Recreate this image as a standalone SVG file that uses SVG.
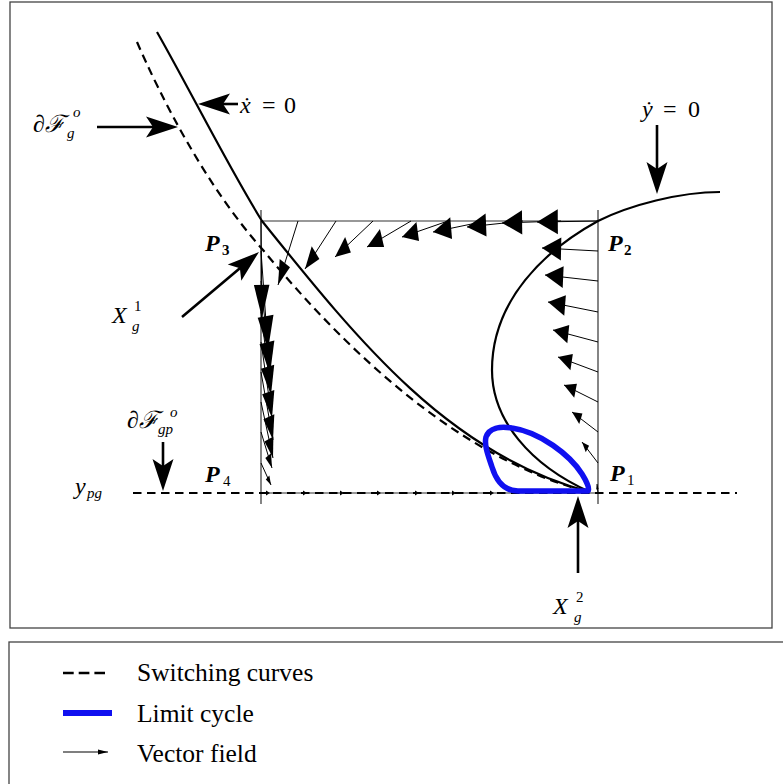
<svg xmlns="http://www.w3.org/2000/svg" xmlns:xlink="http://www.w3.org/1999/xlink" width="783" height="784" viewBox="0 0 783 784">
<defs>
<style>
.m{font-family:"Liberation Serif","DejaVu Serif",serif;font-style:italic;font-size:24px;fill:#000}
.r{font-family:"Liberation Serif","DejaVu Serif",serif;font-style:normal;font-size:24px;fill:#000}
.lg{font-size:25.5px}
.s{font-size:15px}
.b{font-weight:bold}
.frame{fill:none;stroke:#444;stroke-width:1.3}
.curve{fill:none;stroke:#000;stroke-width:2.2}
.dash{fill:none;stroke:#000;stroke-width:2.2;stroke-dasharray:8.5 5.5}
.rl{fill:none;stroke:#333;stroke-width:1.2}
.q{fill:none;stroke:#000;stroke-width:1}
.big{fill:none;stroke:#000;stroke-width:2.6;marker-end:url(#stealth)}
.lc{fill:none;stroke:#1010f0;stroke-width:5.5;stroke-linejoin:round}
</style>
<marker id="stealth" markerUnits="userSpaceOnUse" viewBox="-34 -12 36 24" refX="-20" refY="0" markerWidth="36" markerHeight="24" orient="auto">
<path d="M0,0 L-32,-10.5 L-25,0 L-32,10.5 Z" fill="#000"/>
</marker>
<marker id="small" markerUnits="userSpaceOnUse" viewBox="-11 -4 12 8" refX="0" refY="0" markerWidth="12" markerHeight="8" orient="auto">
<path d="M0,0 L-10,-2.5 L-10,2.5 Z" fill="#000"/>
</marker>
<path id="qh" d="M0,0 L-1,-0.375 L-1,0.375 Z" fill="#000"/>
</defs>

<rect id="frame" class="frame" x="10" y="2" width="762" height="626"/>

<g id="rectangle">
<line class="rl" x1="261" y1="221" x2="598" y2="221"/>
<line class="rl" x1="261" y1="210" x2="261" y2="504"/>
<line class="rl" x1="598" y1="210" x2="598" y2="504"/>
<line class="rl" x1="261" y1="493" x2="598" y2="493"/>
</g>

<g id="vector-field">
<line class="q" x1="598" y1="221" x2="537" y2="222"/>
<line class="q" x1="561" y1="221" x2="502" y2="223"/>
<line class="q" x1="523" y1="221" x2="467" y2="227"/>
<line class="q" x1="486" y1="221" x2="433" y2="232"/>
<line class="q" x1="448" y1="221" x2="402" y2="237"/>
<line class="q" x1="411" y1="221" x2="367" y2="247"/>
<line class="q" x1="373" y1="221" x2="335" y2="257"/>
<line class="q" x1="336" y1="221" x2="305" y2="269"/>
<line class="q" x1="298" y1="221" x2="278" y2="285"/>
<use xlink:href="#qh" transform="translate(537,222) scale(1,1.6) rotate(179.4) scale(20.8)"/>
<use xlink:href="#qh" transform="translate(502,223) scale(1,1.6) rotate(178.8) scale(20.1)"/>
<use xlink:href="#qh" transform="translate(467,227) scale(1,1.6) rotate(176.2) scale(19.1)"/>
<use xlink:href="#qh" transform="translate(433,232) scale(1,1.6) rotate(172.6) scale(18.3)"/>
<use xlink:href="#qh" transform="translate(402,237) scale(1,1.6) rotate(167.7) scale(16.1)"/>
<use xlink:href="#qh" transform="translate(367,247) scale(1,1.6) rotate(159.7) scale(16)"/>
<use xlink:href="#qh" transform="translate(335,257) scale(1,1.6) rotate(149.4) scale(15.1)"/>
<use xlink:href="#qh" transform="translate(305,269) scale(1,1.6) rotate(135.9) scale(14.7)"/>
<use xlink:href="#qh" transform="translate(278,285) scale(1,1.6) rotate(116.6) scale(15.3)"/>
<line class="q" x1="598" y1="251" x2="542" y2="248"/>
<line class="q" x1="598" y1="281" x2="545" y2="275"/>
<line class="q" x1="598" y1="312" x2="548" y2="302"/>
<line class="q" x1="598" y1="342" x2="553" y2="330"/>
<line class="q" x1="598" y1="372" x2="558" y2="357"/>
<line class="q" x1="598" y1="402" x2="564" y2="385"/>
<line class="q" x1="598" y1="432" x2="572" y2="412"/>
<line class="q" x1="598" y1="463" x2="582" y2="442"/>
<line class="q" x1="598" y1="493" x2="597" y2="484"/>
<use xlink:href="#qh" transform="translate(542,248) scale(1,1.6) rotate(181.9) scale(19.1)"/>
<use xlink:href="#qh" transform="translate(545,275) scale(1,1.6) rotate(184) scale(18.2)"/>
<use xlink:href="#qh" transform="translate(548,302) scale(1,1.6) rotate(187.1) scale(17.2)"/>
<use xlink:href="#qh" transform="translate(553,330) scale(1,1.6) rotate(189.5) scale(15.5)"/>
<use xlink:href="#qh" transform="translate(558,357) scale(1,1.6) rotate(193.2) scale(14)"/>
<use xlink:href="#qh" transform="translate(564,385) scale(1,1.6) rotate(197.3) scale(12.1)"/>
<use xlink:href="#qh" transform="translate(572,412) scale(1,1.6) rotate(205.7) scale(9.8)"/>
<use xlink:href="#qh" transform="translate(582,442) scale(1,1.6) rotate(219.3) scale(7)"/>
<use xlink:href="#qh" transform="translate(597,484) scale(1,1.6) rotate(264) scale(3.3)"/>
<line class="q" x1="261" y1="221" x2="262" y2="318"/>
<line class="q" x1="261" y1="251" x2="268" y2="350"/>
<line class="q" x1="261" y1="281" x2="270" y2="374"/>
<line class="q" x1="261" y1="312" x2="271" y2="395"/>
<line class="q" x1="261" y1="342" x2="272" y2="418"/>
<line class="q" x1="261" y1="372" x2="273" y2="440"/>
<line class="q" x1="261" y1="402" x2="273" y2="458"/>
<line class="q" x1="261" y1="432" x2="272" y2="468"/>
<line class="q" x1="261" y1="463" x2="271" y2="485"/>
<use xlink:href="#qh" transform="translate(262,318) scale(1,1.6) rotate(89.1) scale(20.7)"/>
<use xlink:href="#qh" transform="translate(268,350) scale(1,1.6) rotate(83.5) scale(21.2)"/>
<use xlink:href="#qh" transform="translate(270,374) scale(1,1.6) rotate(81.2) scale(20)"/>
<use xlink:href="#qh" transform="translate(271,395) scale(1,1.6) rotate(79.1) scale(18)"/>
<use xlink:href="#qh" transform="translate(272,418) scale(1,1.6) rotate(77) scale(16.6)"/>
<use xlink:href="#qh" transform="translate(273,440) scale(1,1.6) rotate(74.2) scale(15.1)"/>
<use xlink:href="#qh" transform="translate(273,458) scale(1,1.6) rotate(71.1) scale(12.6)"/>
<use xlink:href="#qh" transform="translate(272,468) scale(1,1.6) rotate(63.9) scale(8.6)"/>
<use xlink:href="#qh" transform="translate(271,485) scale(1,1.6) rotate(54) scale(5.8)"/>
<use xlink:href="#qh" transform="translate(270,493) scale(1,1.6) rotate(0) scale(4)"/>
<use xlink:href="#qh" transform="translate(307,493) scale(1,1.6) rotate(0) scale(4)"/>
<use xlink:href="#qh" transform="translate(344,493) scale(1,1.6) rotate(0) scale(4)"/>
<use xlink:href="#qh" transform="translate(381,493) scale(1,1.6) rotate(0) scale(4)"/>
<use xlink:href="#qh" transform="translate(419,493) scale(1,1.6) rotate(0) scale(4)"/>
<use xlink:href="#qh" transform="translate(456,493) scale(1,1.6) rotate(0) scale(4)"/>
<use xlink:href="#qh" transform="translate(494,493) scale(1,1.6) rotate(0) scale(4)"/>
</g>

<g id="curves">
<line class="dash" x1="133" y1="493" x2="737" y2="493"/>
<path class="curve" d="M157,32 C190,90 230,170 262,221 C360,343 450,455 590,492"/>
<path class="dash" d="M137,42 C160,95 205,185 263,250 C350,355 460,458 588,492"/>
<path class="curve" d="M720,192 C680,192 630,205 598,221 C545,250 492,300 492,370 C492,420 530,465 590,492"/>
</g>

<g id="limit-cycle">
<path class="lc" d="M588,491 L518,491 C503,491 496,480 492,467 C488,455 484,445 486,437 C489,428 500,426 512,428 C540,432 570,455 582,474 C587,482 590,489 588,491 Z"/>
</g>

<g id="annotation-arrows">
<line class="big" x1="97" y1="127" x2="158" y2="127"/>
<line class="big" x1="238" y1="104" x2="218" y2="104"/>
<line class="big" x1="657" y1="125" x2="657" y2="174"/>
<line class="big" x1="182" y1="317" x2="243.7" y2="264.9"/>
<line class="big" x1="163" y1="442" x2="163" y2="471"/>
<line class="big" x1="578" y1="573" x2="578" y2="516"/>
</g>

<g id="labels">
<text class="m" x="33" y="132">∂ℱ</text>
<text class="m s" x="73" y="117">o</text>
<text class="m s" x="67" y="138">g</text>

<text class="m" x="240" y="113">ẋ</text>
<text class="r" x="262" y="113">=</text>
<text class="r" x="284" y="113">0</text>

<text class="m" x="642" y="117">ẏ</text>
<text class="r" x="663" y="117">=</text>
<text class="r" x="688" y="117">0</text>

<text class="m b" x="205" y="251">P</text><text class="r s b" x="222" y="255">3</text>
<text class="m b" x="608" y="251">P</text><text class="r s b" x="624" y="255">2</text>
<text class="m b" x="205" y="482">P</text><text class="r s" x="223" y="486">4</text>
<text class="m b" x="610" y="481">P</text><text class="r s" x="627" y="485">1</text>

<text class="m" x="112" y="323">X</text>
<text class="r s" x="134" y="311">1</text>
<text class="m s" x="132" y="331">g</text>

<text class="m" x="553" y="614">X</text>
<text class="r s" x="576" y="602">2</text>
<text class="m s" x="574" y="622">g</text>

<text class="m" x="127" y="428">∂ℱ</text>
<text class="m s" x="170" y="417">o</text>
<text class="m s" x="158" y="434">gp</text>

<text class="m" x="75" y="494">y</text>
<text class="m s" x="87" y="498">pg</text>
</g>

<g id="legend">
<rect class="frame" x="9" y="642" width="790" height="160"/>
<line x1="63" y1="673" x2="105" y2="673" stroke="#000" stroke-width="2.6" stroke-dasharray="10.7 5"/>
<text class="r lg" x="137" y="681">Switching curves</text>
<line x1="63" y1="713" x2="112" y2="713" stroke="#1010f0" stroke-width="6"/>
<text class="r lg" x="137" y="722">Limit cycle</text>
<line x1="63" y1="752" x2="108" y2="752" stroke="#000" stroke-width="1.2" marker-end="url(#small)"/>
<text class="r lg" x="137" y="762">Vector field</text>
</g>
</svg>
